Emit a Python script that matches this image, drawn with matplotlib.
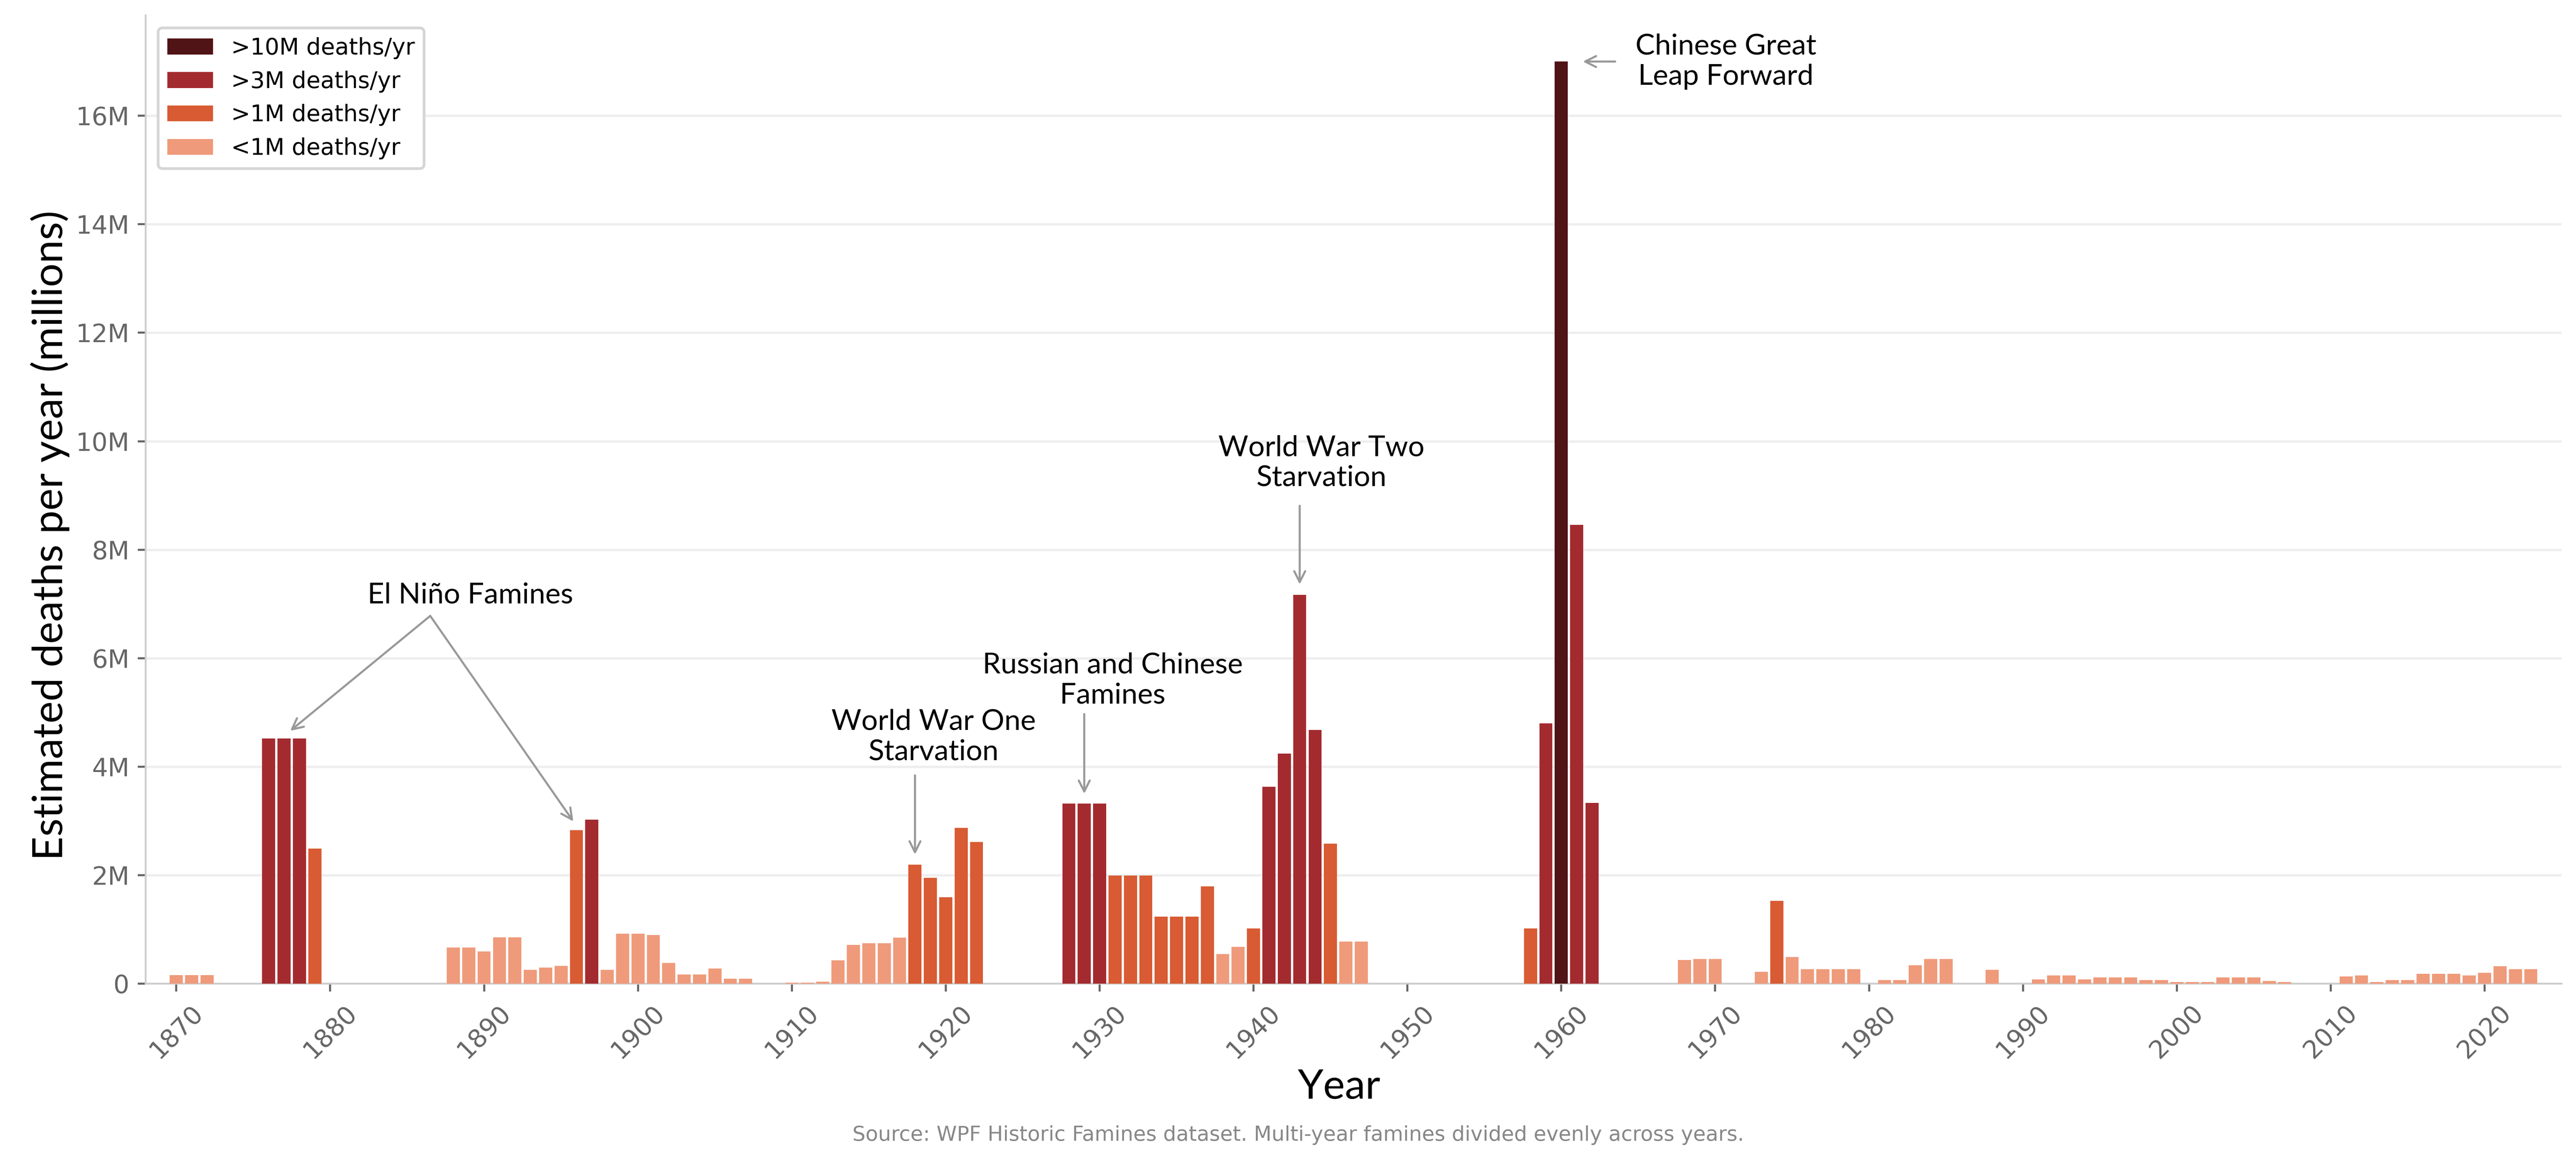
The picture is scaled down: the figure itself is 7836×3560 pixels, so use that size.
import matplotlib
matplotlib.use("Agg")
import matplotlib.pyplot as plt
from matplotlib.patches import Patch
from matplotlib.ticker import FuncFormatter, MultipleLocator

# ---------------- data (deaths per year, millions) ----------------
years = [1870, 1871, 1872,
         1876, 1877, 1878, 1879,
         1888, 1889, 1890, 1891, 1892, 1893, 1894, 1895, 1896, 1897, 1898, 1899,
         1900, 1901, 1902, 1903, 1904, 1905, 1906, 1907,
         1910, 1911, 1912, 1913, 1914, 1915, 1916, 1917, 1918, 1919, 1920, 1921, 1922,
         1928, 1929, 1930, 1931, 1932, 1933, 1934, 1935, 1936, 1937, 1938, 1939,
         1940, 1941, 1942, 1943, 1944, 1945, 1946, 1947,
         1958, 1959, 1960, 1961, 1962,
         1968, 1969, 1970, 1973, 1974, 1975, 1976, 1977, 1978, 1979,
         1981, 1982, 1983, 1984, 1985, 1988,
         1991, 1992, 1993, 1994, 1995, 1996, 1997, 1998, 1999,
         2000, 2001, 2002, 2003, 2004, 2005, 2006, 2007,
         2011, 2012, 2013, 2014, 2015, 2016, 2017, 2018, 2019,
         2020, 2021, 2022, 2023]
deaths_m = [0.157, 0.157, 0.157,
            4.52, 4.52, 4.52, 2.49,
            0.664, 0.664, 0.596, 0.851, 0.851, 0.255, 0.294, 0.328, 2.83, 3.02, 0.255, 0.919,
            0.919, 0.898, 0.379, 0.170, 0.170, 0.277, 0.088, 0.088,
            0.020, 0.020, 0.037, 0.428, 0.716, 0.744, 0.744, 0.847, 2.19, 1.95, 1.595, 2.87, 2.61,
            3.32, 3.32, 3.32, 1.99, 1.99, 1.99, 1.237, 1.237, 1.237, 1.795, 0.544, 0.679,
            1.019, 3.63, 4.24, 7.17, 4.68, 2.58, 0.775, 0.775,
            1.02, 4.80, 17.0, 8.46, 3.33,
            0.435, 0.454, 0.454, 0.217, 1.525, 0.489, 0.265, 0.265, 0.265, 0.265,
            0.063, 0.063, 0.338, 0.454, 0.454, 0.251,
            0.081, 0.149, 0.149, 0.081, 0.112, 0.112, 0.112, 0.063, 0.063,
            0.028, 0.028, 0.028, 0.112, 0.112, 0.112, 0.047, 0.028,
            0.130, 0.149, 0.028, 0.063, 0.063, 0.179, 0.179, 0.179, 0.149,
            0.198, 0.319, 0.265, 0.265]

category_labels = [">10M deaths/yr", ">3M deaths/yr", ">1M deaths/yr", "<1M deaths/yr"]
category_colors = ["#511416", "#a32b2f", "#d85b33", "#ef9a7b"]
xtick_years = list(range(1870, 2021, 10))

source_text = "Source: WPF Historic Famines dataset. Multi-year famines divided evenly across years."


def color_for(v):
    if v > 10:
        return category_colors[0]
    if v > 3:
        return category_colors[1]
    if v > 1:
        return category_colors[2]
    return category_colors[3]


value_of = dict(zip(years, deaths_m))

# ---------------- figure ----------------
fig = plt.figure(figsize=(15.672, 7.12), dpi=500)
ax = fig.add_axes([0.0565, 0.1593, 0.9379, 0.8275])

ax.bar(years, deaths_m, width=0.85, color=[color_for(v) for v in deaths_m],
       linewidth=0, zorder=3)

ax.set_xlim(1868, 2025)
ax.set_ylim(0, 17.85)

ax.yaxis.set_major_locator(MultipleLocator(2))
ax.yaxis.set_major_formatter(FuncFormatter(lambda v, p: "0" if v == 0 else f"{int(v)}M"))
ax.set_xticks(xtick_years)
ax.set_xticklabels([str(y) for y in xtick_years], rotation=45)

ax.grid(axis="y", color="#eeeeee", linewidth=1.0, zorder=0)
ax.set_axisbelow(True)

for s in ["top", "right"]:
    ax.spines[s].set_visible(False)
for s in ["left", "bottom"]:
    ax.spines[s].set_color("#cccccc")
    ax.spines[s].set_linewidth(0.8)

ax.tick_params(axis="both", colors="#666666", labelsize=11, length=3.5, width=0.9)
ax.tick_params(axis="x", pad=4)

label_font = ["Lato", "DejaVu Sans"]
ax.set_ylabel("Estimated deaths per year (millions)", fontsize=18.3, family=label_font,
              color="black")
ax.yaxis.set_label_coords(-0.0314, 0.463)
ax.set_xlabel("Year", fontsize=18, family=label_font, color="black")
ax.xaxis.set_label_coords(0.494, -0.088)

handles = [Patch(facecolor=c, label=l) for c, l in zip(category_colors, category_labels)]
leg = ax.legend(handles=handles, loc="upper left", fontsize=10, framealpha=1.0,
                borderaxespad=0.55)
leg.get_frame().set_edgecolor("#d6d6d6")
leg.get_frame().set_linewidth(1.2)

# ---------------- annotations ----------------
ann_font = dict(fontsize=12.7, family=label_font, color="black", ha="center", va="center",
                zorder=5)
arrow = dict(arrowstyle="->", color="#999999", lw=0.9, shrinkA=0, shrinkB=0,
             mutation_scale=12)

# El Nino
ax.text(1889.1, 7.16, "El Niño Famines", **ann_font)
ax.annotate("", xy=(1877.4, value_of[1877] + 0.14), xytext=(1886.5, 6.78), arrowprops=arrow)
ax.annotate("", xy=(1895.8, value_of[1896] + 0.16), xytext=(1886.5, 6.78), arrowprops=arrow)

# WW1
ax.text(1919.2, 4.55, "World War One\nStarvation", **ann_font)
ax.annotate("", xy=(1918, value_of[1918] + 0.19), xytext=(1918, 3.84), arrowprops=arrow)

# Russian and Chinese
ax.text(1930.85, 5.59, "Russian and Chinese\nFamines", **ann_font)
ax.annotate("", xy=(1929, value_of[1929] + 0.18), xytext=(1929, 4.97), arrowprops=arrow)

# WW2
ax.text(1944.4, 9.6, "World War Two\nStarvation", **ann_font)
ax.annotate("", xy=(1943, value_of[1943] + 0.19), xytext=(1943, 8.81), arrowprops=arrow)

# Great Leap Forward
ax.text(1970.7, 17.0, "Chinese Great\nLeap Forward", **ann_font)
ax.annotate("", xy=(1961.4, value_of[1960]), xytext=(1963.5, value_of[1960]), arrowprops=arrow)

fig.text(0.504, 0.025, source_text, ha="center", va="baseline", fontsize=9,
         color="#888888")

fig.savefig("out.png", dpi=500)
